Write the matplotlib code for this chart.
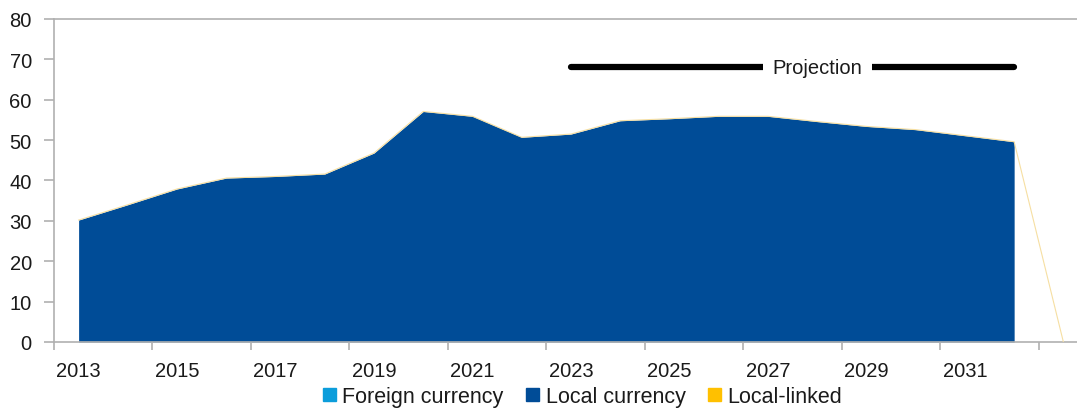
import numpy as np
import matplotlib
matplotlib.use("Agg")
import matplotlib.pyplot as plt
from matplotlib.patches import Patch

plt.rcParams['font.family'] = ['Liberation Sans', 'DejaVu Sans']

years = list(range(2013, 2034))
foreign_currency = [0.0] * 21
local_currency = [30.2, 34.0, 37.9, 40.6, 41.0, 41.6, 46.8, 57.1, 55.9, 50.7,
                  51.5, 54.8, 55.3, 55.9, 55.9, 54.6, 53.4, 52.6, 51.1, 49.6, np.nan]
local_linked = [0.0] * 21
tick_labels = [str(y) for y in range(2013, 2032, 2)]
projection_level = 68
projection_start, projection_end = 2023, 2032

BLUE = '#004C97'
LBLUE = '#0B9DDB'
YELLOW = '#FFC000'

fig = plt.figure(figsize=(10.77, 4.10), dpi=100)
ax = fig.add_axes([54/1077, 67/410, (1088-54)/1077, 323/410])

x = np.arange(len(years))
fc = np.array(foreign_currency)
lc = np.array(local_currency)
ll = np.array(local_linked)
valid = ~np.isnan(lc)

ax.fill_between(x[valid], 0, fc[valid], color=LBLUE, linewidth=0)
ax.fill_between(x[valid], fc[valid], fc[valid] + lc[valid], color=BLUE, linewidth=0)
total = fc + np.nan_to_num(lc) + ll
ax.plot(x, total, color='#F6DFA2', linewidth=0.8, zorder=3)

# projection marker
i0 = years.index(projection_start)
i1 = years.index(projection_end)
ax.plot([i0, i1], [projection_level, projection_level], color='black', lw=4.5,
        solid_capstyle='round', zorder=4)
ax.text((i0 + i1) / 2 + 0.5, projection_level, 'Projection', ha='center', va='center',
        fontsize=14.5, color='#1a1a1a', zorder=5,
        bbox=dict(facecolor='white', edgecolor='none', pad=7))

ax.set_xlim(-0.5, len(years) - 0.5)
ax.set_ylim(0, 80)
ax.set_yticks(range(0, 81, 10))
ax.tick_params(axis='y', labelsize=14.5, length=7, pad=9, color='#b0b0b0',
               labelcolor='#1a1a1a', width=1.2)

ax.set_xticks(np.arange(-0.5, len(years), 2))
ax.set_xticklabels([])
ax.set_xticks(np.arange(0, 19, 2), minor=True)
ax.set_xticklabels(tick_labels, minor=True)
ax.tick_params(axis='x', which='major', length=6, color='#b0b0b0', width=1.2, direction='out')
ax.tick_params(axis='x', which='minor', length=0, labelsize=14.5, labelcolor='#1a1a1a', pad=14)

for s in ['left', 'bottom', 'top']:
    ax.spines[s].set_color('#b0b0b0')
    ax.spines[s].set_linewidth(1.2)
ax.spines['right'].set_visible(False)

handles = [Patch(color=LBLUE, label='Foreign currency'),
           Patch(color=BLUE, label='Local currency'),
           Patch(color=YELLOW, label='Local-linked')]
fig.legend(handles=handles, loc='center', bbox_to_anchor=(0.541, 0.03), ncol=3,
           frameon=False, fontsize=15.5, handlelength=0.6, handleheight=0.6,
           handletextpad=0.3, columnspacing=1.05, labelcolor='#1a1a1a',
           borderpad=0.1)

fig.savefig('out.png', dpi=100)
